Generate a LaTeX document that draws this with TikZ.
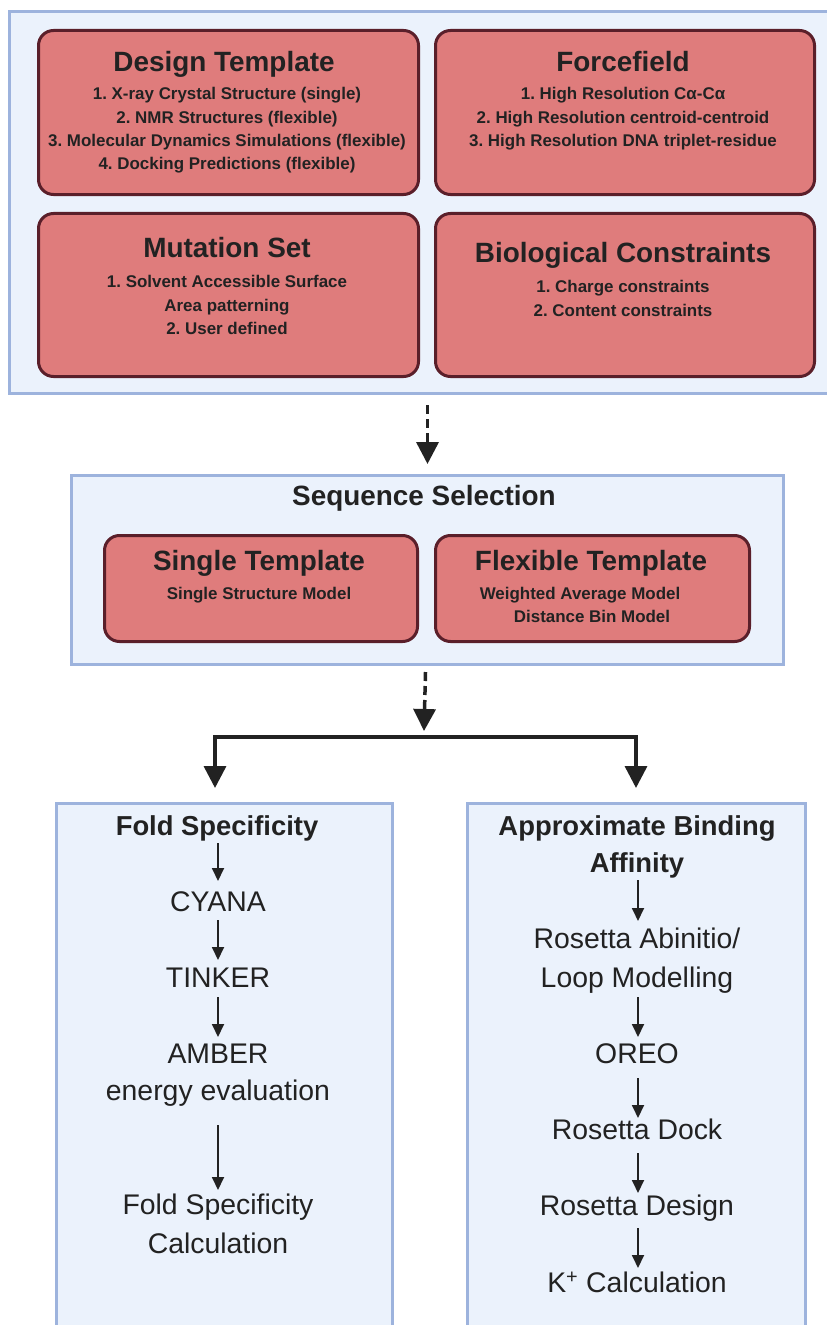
\documentclass[tikz,border=0pt]{standalone}
\usepackage{fontspec}
\setmainfont{Liberation Sans}
\usetikzlibrary{arrows.meta,calc}
\frenchspacing
\definecolor{panelfill}{HTML}{EBF2FC}
\definecolor{panelline}{HTML}{9DB3DD}
\definecolor{redfill}{HTML}{DF7C7C}
\definecolor{redline}{HTML}{5A1F2A}
\definecolor{ink}{HTML}{222222}
\begin{document}
\begin{tikzpicture}[x=1bp,y=-1bp,
  panel/.style={draw=panelline,fill=panelfill,line width=3bp,inner sep=0pt,anchor=north west},
  redbox/.style={draw=redline,fill=redfill,line width=3bp,rounded corners=15bp,inner sep=0pt,anchor=north west},
  boxtitle/.style={font=\fontsize{28}{32}\selectfont\bfseries,text=ink,inner sep=0pt,anchor=base},
  boxbody/.style={font=\fontsize{17}{23.3}\selectfont\bfseries,text=ink,inner sep=0pt,anchor=base,align=center},
  label/.style={font=\fontsize{28.5}{39}\selectfont,text=ink,inner sep=0pt,anchor=base,align=center},
  blabel/.style={font=\fontsize{27.5}{37}\selectfont\bfseries,text=ink,inner sep=0pt,anchor=base,align=center},
  bigarrow/.style={draw=ink,line width=3.5bp,-{Triangle[length=22bp,width=22bp]}},
  smallarrow/.style={draw=ink,line width=1.8bp,-{Triangle[length=13bp,width=12bp]}},
  dashpat/.style={dash pattern=on 9bp off 5bp}
]
\useasboundingbox (0,0) rectangle (826,1325);

% top panel
\node[panel,minimum width=830bp,minimum height=382bp] (top) at (8,10) {};
\node[redbox,minimum width=380bp,minimum height=164bp] (design) at (37,29) {};
\node[redbox,minimum width=379bp,minimum height=164bp] (force) at (434,29) {};
\node[redbox,minimum width=380bp,minimum height=163bp] (mut) at (37,212) {};
\node[redbox,minimum width=379bp,minimum height=163bp] (bio) at (434,212) {};

\node[boxtitle] (designT) at (224,72) {Design Template};
\node[boxbody,anchor=base] (design1) at (227,100) {1. X-ray Crystal Structure (single)};
\node[boxbody] (design2) at (227,123.3) {2. NMR Structures (flexible)};
\node[boxbody] (design3) at (227,146.7) {3. Molecular Dynamics Simulations (flexible)};
\node[boxbody] (design4) at (227,170) {4. Docking Predictions (flexible)};

\node[boxtitle] (forceT) at (623,72) {Forcefield};
\node[boxbody] (force1) at (623,100) {1. High Resolution Cα-Cα};
\node[boxbody] (force2) at (623,123.3) {2. High Resolution centroid-centroid};
\node[boxbody] (force3) at (623,146.7) {3. High Resolution DNA triplet-residue};

\node[boxtitle] (mutT) at (227,258) {Mutation Set};
\node[boxbody] (mut1) at (227,288) {1. Solvent Accessible Surface};
\node[boxbody] (mut2) at (227,311.3) {Area patterning};
\node[boxbody] (mut3) at (227,334.6) {2. User defined};

\node[boxtitle] (bioT) at (623,263) {Biological Constraints};
\node[boxbody] (bio1) at (623,293) {1. Charge constraints};
\node[boxbody] (bio2) at (623,316.3) {2. Content constraints};

% sequence selection
\node[panel,minimum width=712bp,minimum height=189bp] (seq) at (70,474) {};
\node[boxtitle] (seqT) at (424,505) {Sequence Selection};
\node[redbox,minimum width=313bp,minimum height=106bp] (single) at (103,534) {};
\node[redbox,minimum width=314bp,minimum height=106bp] (flex) at (434,534) {};
\node[boxtitle] (singleT) at (259,570) {Single Template};
\node[boxbody] (single1) at (259,599) {Single Structure Model};
\node[boxtitle] (flexT) at (591,570) {Flexible Template};
\node[boxbody] (flex1) at (580,599) {Weighted Average Model};
\node[boxbody] (flex2) at (592,622.3) {Distance Bin Model};

% bottom panels
\node[panel,minimum width=336bp,minimum height=560bp] (fold) at (55,802) {};
\node[panel,minimum width=338bp,minimum height=560bp] (bind) at (466,802) {};

% connectors between panels
\draw[bigarrow,dashpat] ($(seq.north |- top.south)+(0,10)$) -- ($(seq.north)+(0,-10)$);
\coordinate (split) at (424,737);
\coordinate (bl) at (215,737);
\coordinate (br) at (636,737);
\draw[bigarrow,dashpat] ($(seq.south)+(-2,6)$) -- ($(split)+(0,-6)$);
\draw[draw=ink,line width=3.5bp,{Triangle[length=22bp,width=22bp]}-{Triangle[length=22bp,width=22bp]}]
  ($(bl |- fold.north)+(0,-14)$) -- (bl) -- (br) -- ($(br |- bind.north)+(0,-14)$);

% fold specificity column
\node[blabel] (foldT) at (217,835) {Fold Specificity};
\node[label] (cyana) at (218,911) {CYANA};
\node[label] (tinker) at (218,987) {TINKER};
\node[label] (amber) at (218,1063) {AMBER};
\node[label] (energy) at (218,1100) {energy evaluation};
\node[label] (foldc1) at (218,1214) {Fold Specificity};
\node[label] (foldc2) at (218,1253) {Calculation};
\coordinate (fx) at (218,0);
\draw[smallarrow] (fx |- 0,843) -- (fx |- 0,881);
\draw[smallarrow] (fx |- 0,920) -- (fx |- 0,960);
\draw[smallarrow] (fx |- 0,997) -- (fx |- 0,1037);
\draw[smallarrow] (fx |- 0,1125) -- (fx |- 0,1190);

% binding affinity column
\node[blabel] (bindT1) at (637,835) {Approximate Binding};
\node[blabel] (bindT2) at (637,872) {Affinity};
\node[label] (ros1) at (637,948) {Rosetta Abinitio/};
\node[label] (ros2) at (637,987) {Loop Modelling};
\node[label] (oreo) at (637,1063) {OREO};
\node[label] (dock) at (637,1139) {Rosetta Dock};
\node[label] (rdes) at (637,1215) {Rosetta Design};
\node[label] (kcalc) at (637,1292) {K\textsuperscript{+} Calculation};
\coordinate (bx) at (638,0);
\draw[smallarrow] (bx |- 0,880) -- (bx |- 0,921);
\draw[smallarrow] (bx |- 0,997) -- (bx |- 0,1037);
\draw[smallarrow] (bx |- 0,1078) -- (bx |- 0,1118);
\draw[smallarrow] (bx |- 0,1153) -- (bx |- 0,1193);
\draw[smallarrow] (bx |- 0,1228) -- (bx |- 0,1268);
\end{tikzpicture}
\end{document}
